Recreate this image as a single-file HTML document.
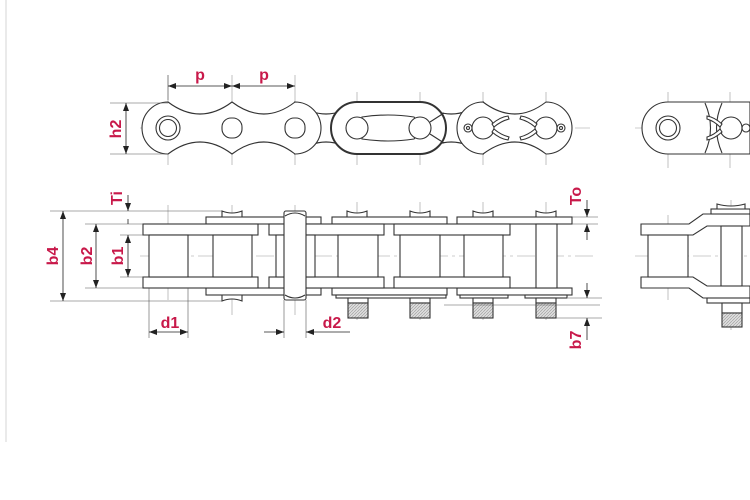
<!DOCTYPE html>
<html><head><meta charset="utf-8"><style>
html,body{margin:0;padding:0;background:#fff;width:750px;height:500px;overflow:hidden}
svg{display:block}
text{font-family:"Liberation Sans",sans-serif;font-size:16px;fill:#c8194a;font-weight:bold}
</style></head><body>
<svg width="750" height="500" viewBox="0 0 750 500" xmlns="http://www.w3.org/2000/svg">
<defs>
<pattern id="h" width="3" height="3" patternUnits="userSpaceOnUse"><rect width="3" height="3" fill="#ddd"/><path d="M0 3L3 0" stroke="#999" stroke-width="0.6"/></pattern>
<marker id="a" markerWidth="8" markerHeight="6" refX="8" refY="3" orient="auto" markerUnits="userSpaceOnUse"><path d="M0 0L8 3L0 6z" fill="#222"/></marker>
</defs>
<line x1="6" y1="0" x2="6" y2="442" stroke="#e4e4e4" stroke-width="1.5"/>

<!-- centerlines -->
<g stroke="#999" stroke-width="0.6" fill="none">
<line x1="140" y1="128" x2="590" y2="128" stroke-dasharray="18 4 3 4"/>
<line x1="635" y1="128" x2="750" y2="128" stroke-dasharray="18 4 3 4"/>
<line x1="140" y1="256" x2="595" y2="256" stroke-dasharray="18 4 3 4"/>
<line x1="635" y1="256" x2="750" y2="256" stroke-dasharray="18 4 3 4"/>
<line x1="168" y1="75" x2="168" y2="165"/><line x1="232" y1="75" x2="232" y2="165"/><line x1="295" y1="75" x2="295" y2="165"/>
<line x1="357" y1="92" x2="357" y2="165"/><line x1="420" y1="92" x2="420" y2="165"/><line x1="483" y1="92" x2="483" y2="165"/><line x1="546" y1="92" x2="546" y2="165"/>
<line x1="668" y1="92" x2="668" y2="168"/><line x1="730" y1="92" x2="730" y2="168"/>
<line x1="168" y1="205" x2="168" y2="300"/><line x1="232" y1="205" x2="232" y2="315"/><line x1="295" y1="205" x2="295" y2="315"/>
<line x1="357" y1="202" x2="357" y2="320"/><line x1="420" y1="202" x2="420" y2="320"/><line x1="483" y1="202" x2="483" y2="320"/><line x1="546" y1="202" x2="546" y2="320"/>
<line x1="668" y1="215" x2="668" y2="300"/><line x1="731" y1="200" x2="731" y2="330"/>
</g>

<!-- TOP VIEW -->
<g stroke="#333" stroke-width="1.1" fill="#fff">
<path d="M295 102 Q326 126 357 102 L357 154 Q326 130 295 154z"/>
<path d="M420 102 Q451 126 483 102 L483 154 Q451 130 420 154z"/>
<path d="M168 102 Q200 126 232 102 Q264 126 295 102 A26 26 0 0 1 295 154 Q264 130 232 154 Q200 130 168 154 A26 26 0 0 1 168 102z"/>
<circle cx="168" cy="128" r="12"/><circle cx="168" cy="128" r="8.5"/>
<rect x="222" y="118" width="20" height="20" rx="9"/>
<rect x="285" y="118" width="20" height="20" rx="9"/>
<path d="M483 102 Q515 126 546 102 A26 26 0 0 1 546 154 Q515 130 483 154 A26 26 0 0 1 483 102z"/>
<rect x="331" y="102" width="115" height="52" rx="26" stroke-width="2"/>
<path d="M362 117 Q388 113 414 117 Q426 128 414 139 Q388 143 362 139z"/>
<circle cx="357" cy="128" r="11"/><circle cx="420" cy="128" r="11"/>
<path d="M430 122 L444 113 M430 134 L444 143" fill="none"/>
<circle cx="483" cy="128" r="11"/><circle cx="546" cy="128" r="11"/>
<circle cx="468" cy="128" r="4"/><circle cx="468" cy="128" r="1.5"/>
<circle cx="561" cy="128" r="4"/><circle cx="561" cy="128" r="1.5"/>
<path d="M492 124 Q500 117 508 116 L509 119 Q501 121 494 127z" fill="#fff"/>
<path d="M492 132 Q500 139 508 140 L509 137 Q501 135 494 129z" fill="#fff"/>
<path d="M537 124 Q529 117 521 116 L520 119 Q528 121 535 127z" fill="#fff"/>
<path d="M537 132 Q529 139 521 140 L520 137 Q528 135 535 129z" fill="#fff"/>
<path d="M668 102 L750 102 L750 154 L668 154 A26 26 0 0 1 668 102z"/>
<path d="M705 103 Q716 128 705 153 M722 103 Q711 128 722 153" fill="none"/>
<circle cx="668" cy="128" r="12"/><circle cx="668" cy="128" r="8.5"/>
<circle cx="731" cy="128" r="11"/>
<path d="M722 124 Q714 117 707 116 L707 119 Q714 121 720 127z M722 132 Q714 139 707 140 L707 137 Q714 135 720 129z"/>
<circle cx="746" cy="128" r="4"/>
</g>

<!-- BOTTOM VIEW -->
<g stroke="#333" stroke-width="1.1" fill="#fff">
<rect x="206" y="217" width="115" height="7"/><rect x="206" y="288" width="115" height="7"/>
<rect x="332" y="217" width="115" height="7"/><rect x="332" y="288" width="115" height="7"/>
<rect x="457" y="217" width="115" height="7"/><rect x="457" y="288" width="115" height="7"/>
<rect x="336" y="295" width="110" height="3"/><rect x="460" y="295" width="48" height="3"/><rect x="525" y="295" width="42" height="3"/>
<rect x="143" y="224" width="115" height="11"/><rect x="143" y="277" width="115" height="11"/>
<rect x="269" y="224" width="115" height="11"/><rect x="269" y="277" width="115" height="11"/>
<rect x="394" y="224" width="116" height="11"/><rect x="394" y="277" width="116" height="11"/>
<rect x="149" y="235" width="39" height="42"/><rect x="213" y="235" width="39" height="42"/>
<rect x="276" y="235" width="39" height="42"/>
<rect x="338" y="235" width="40" height="42"/><rect x="400" y="235" width="40" height="42"/><rect x="464" y="235" width="39" height="42"/>
<rect x="536" y="224" width="21" height="64"/>
<path d="M222 217 L222 211 Q232 215 242 211 L242 217z"/><path d="M222 295 L222 301 Q232 297 242 301 L242 295z"/>
<path d="M347 217 L347 211 Q357 215 367 211 L367 217z"/>
<path d="M410 217 L410 211 Q420 215 430 211 L430 217z"/>
<path d="M473 217 L473 211 Q483 215 493 211 L493 217z"/>
<path d="M536 217 L536 211 Q546 215 556 211 L556 217z"/>
<rect x="284" y="211" width="22" height="89" rx="2"/>
<path d="M285 216 Q295 210 305 216 M285 295 Q295 301 305 295" fill="none"/>
<rect x="348" y="298" width="20" height="5"/><rect x="410" y="298" width="20" height="5"/><rect x="473" y="298" width="20" height="5"/><rect x="536" y="298" width="20" height="5"/>
<rect x="348" y="303" width="20" height="15" fill="url(#h)"/><rect x="410" y="303" width="20" height="15" fill="url(#h)"/><rect x="473" y="303" width="20" height="15" fill="url(#h)"/><rect x="536" y="303" width="20" height="15" fill="url(#h)"/>
<path d="M641 224 L689 224 L703 214 L750 214 L750 226 L707 226 L693 235 L641 235z"/>
<path d="M641 288 L689 288 L703 298 L750 298 L750 286 L707 286 L693 277 L641 277z"/>
<rect x="711" y="209" width="39" height="5"/>
<rect x="648" y="235" width="40" height="42"/>
<rect x="721" y="226" width="21" height="60"/>
<path d="M717 209 L717 204 Q731 208 745 204 L745 209z"/>
<rect x="707" y="298" width="43" height="5"/>
<rect x="722" y="303" width="20" height="10"/>
<rect x="722" y="313" width="20" height="14" fill="url(#h)"/>
</g>

<g stroke="#555" stroke-width="0.6" fill="none">
<line x1="168" y1="75" x2="168" y2="100"/>
<line x1="110" y1="103" x2="168" y2="103"/><line x1="110" y1="154" x2="168" y2="154"/>
<line x1="50" y1="211" x2="222" y2="211"/><line x1="50" y1="301" x2="222" y2="301"/>
<line x1="85" y1="224" x2="143" y2="224"/><line x1="85" y1="288" x2="143" y2="288"/>
<line x1="120" y1="235" x2="149" y2="235"/><line x1="120" y1="277" x2="149" y2="277"/>
<line x1="149" y1="288" x2="149" y2="338"/><line x1="188" y1="288" x2="188" y2="338"/>
<line x1="284" y1="300" x2="284" y2="338"/><line x1="306" y1="300" x2="306" y2="338"/>
<line x1="572" y1="217" x2="598" y2="217"/><line x1="572" y1="224" x2="598" y2="224"/>
<line x1="568" y1="298" x2="602" y2="298"/><line x1="556" y1="318" x2="602" y2="318"/>
<line x1="444" y1="305" x2="600" y2="305"/>
</g>
<g stroke="#222" stroke-width="0.8" fill="none">
<line x1="200" y1="86" x2="168" y2="86" marker-end="url(#a)"/><line x1="200" y1="86" x2="232" y2="86" marker-end="url(#a)"/>
<line x1="263" y1="86" x2="232" y2="86" marker-end="url(#a)"/><line x1="263" y1="86" x2="295" y2="86" marker-end="url(#a)"/>
<line x1="126" y1="128" x2="126" y2="103" marker-end="url(#a)"/><line x1="126" y1="128" x2="126" y2="154" marker-end="url(#a)"/>
<line x1="63" y1="256" x2="63" y2="211" marker-end="url(#a)"/><line x1="63" y1="256" x2="63" y2="301" marker-end="url(#a)"/>
<line x1="96" y1="256" x2="96" y2="224" marker-end="url(#a)"/><line x1="96" y1="256" x2="96" y2="288" marker-end="url(#a)"/>
<line x1="128" y1="256" x2="128" y2="235" marker-end="url(#a)"/><line x1="128" y1="256" x2="128" y2="277" marker-end="url(#a)"/>
<line x1="128" y1="195" x2="128" y2="211" marker-end="url(#a)"/><line x1="128" y1="219" x2="128" y2="224"/>
<line x1="168" y1="332" x2="149" y2="332" marker-end="url(#a)"/><line x1="168" y1="332" x2="188" y2="332" marker-end="url(#a)"/>
<line x1="264" y1="332" x2="284" y2="332" marker-end="url(#a)"/><line x1="350" y1="332" x2="306" y2="332" marker-end="url(#a)"/>
<line x1="587" y1="200" x2="587" y2="217" marker-end="url(#a)"/><line x1="587" y1="240" x2="587" y2="224" marker-end="url(#a)"/>
<line x1="587" y1="283" x2="587" y2="298" marker-end="url(#a)"/><line x1="587" y1="340" x2="587" y2="318" marker-end="url(#a)"/>
</g>

<text x="200" y="80" text-anchor="middle">p</text>
<text x="264" y="80" text-anchor="middle">p</text>
<text transform="translate(121,129) rotate(-90)" text-anchor="middle">h2</text>
<text transform="translate(58,256) rotate(-90)" text-anchor="middle">b4</text>
<text transform="translate(92,256) rotate(-90)" text-anchor="middle">b2</text>
<text transform="translate(123,256) rotate(-90)" text-anchor="middle">b1</text>
<text transform="translate(122,198) rotate(-90)" text-anchor="middle">Ti</text>
<text transform="translate(581,196) rotate(-90)" text-anchor="middle">To</text>
<text transform="translate(581,340) rotate(-90)" text-anchor="middle">b7</text>
<text x="170" y="328" text-anchor="middle">d1</text>
<text x="332" y="328" text-anchor="middle">d2</text>
</svg>
</body></html>
